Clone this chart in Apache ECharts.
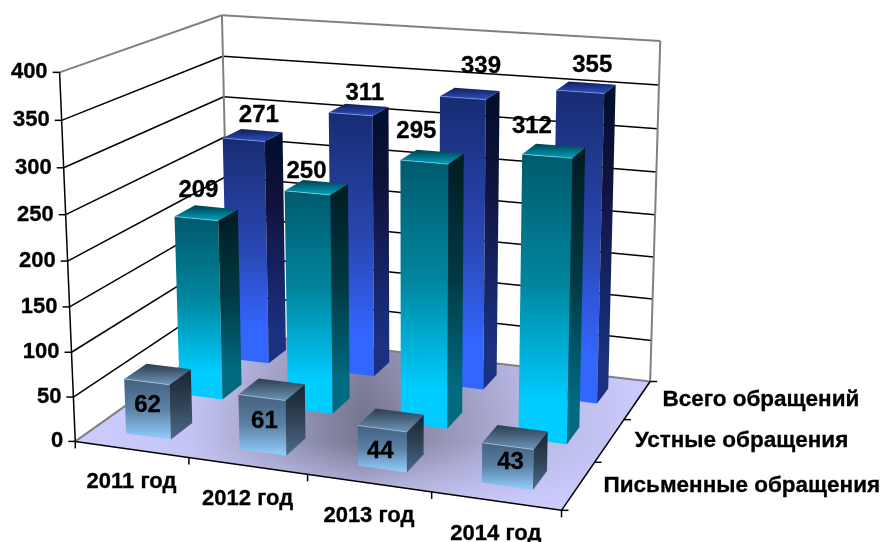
<!DOCTYPE html>
<html><head><meta charset="utf-8">
<style>html,body{margin:0;padding:0;background:#fff}#c{width:881px;height:542px}</style>
<script src="https://cdn.jsdelivr.net/npm/echarts@6/dist/echarts.min.js"></script>
</head><body><div id="c"></div>
<script>
const categories = ['2011 год','2012 год','2013 год','2014 год'];
const seriesNames = ['Письменные обращения','Устные обращения','Всего обращений'];
const written = [62,61,44,43];
const oral = [209,250,295,312];
const total = [271,311,339,355];
const valueTicks = [0,50,100,150,200,250,300,350,400];

const W=881,H=542,UMAX=4,VMAX=3,HMAX=400;
const FONT='"Liberation Sans",Arial,sans-serif';
// camera calibration: box position (category, depth, value) -> picture position
const calib=[
[0,0,0,75,441.7],[0,0,50,73,397.7],[0,0,100,71.7,352],[0,0,150,70,307],[0,0,200,68,261],[0,0,250,66,215],[0,0,300,63.5,167.7],[0,0,350,62,119.7],[0,0,400,60,72],
[1,0,0,188,460],[2,0,0,307,474.5],[3,0,0,432,491],[4,0,0,560,508.5],
[4,1,0,596,462],[4,2,0,625,420],[4,3,0,650,383],
[4,3,150,653,257],[4,3,200,654.5,215],[4,3,250,656,172.7],[4,3,300,658,128],[4,3,350,659,85],[4,3,400,661,41],
[0,3,400,221,15],[0,3,350,222.5,56],[0,3,300,224,98.5],[0,3,0,230,329.5]
];
function fit(){
  const A=[],b=[];
  calib.forEach(([u,v,h,x,y])=>{
    const U=u/UMAX,V=v/VMAX,T=h/HMAX;
    A.push([U,V,T,1,0,0,0,0,-x*U,-x*V,-x*T]);b.push(x);
    A.push([0,0,0,0,U,V,T,1,-y*U,-y*V,-y*T]);b.push(y);
  });
  const n=11,M=[];
  for(let r=0;r<n;r++){M[r]=[];for(let c=0;c<n;c++){let s=0;for(let k=0;k<A.length;k++)s+=A[k][r]*A[k][c];M[r][c]=s;}
    let s=0;for(let k=0;k<A.length;k++)s+=A[k][r]*b[k];M[r][n]=s;}
  for(let c=0;c<n;c++){let p=c;for(let r=c+1;r<n;r++)if(Math.abs(M[r][c])>Math.abs(M[p][c]))p=r;
    [M[c],M[p]]=[M[p],M[c]];
    for(let r=0;r<n;r++){if(r===c)continue;const f=M[r][c]/M[c][c];for(let k=c;k<=n;k++)M[r][k]-=f*M[c][k];}}
  return M.map((row,i)=>row[n]/row[i]);
}
const P=fit();
function project(u,v,h){
  const U=u/UMAX,V=v/VMAX,T=h/HMAX,d=P[8]*U+P[9]*V+P[10]*T+1;
  return [(P[0]*U+P[1]*V+P[2]*T+P[3])/d,(P[4]*U+P[5]*V+P[6]*T+P[7])/d];
}
// read category position and value through the (hidden) axes of the grid
function flat(api,cat,val){
  const c=api.coord([cat,val]);
  return {u:c[0]/W*UMAX,h:(H-c[1])/H*HMAX};
}
function vgrad(stops){return {type:'linear',x:0,y:0,x2:0,y2:1,global:false,
  colorStops:stops.map(s=>({offset:s[0],color:s[1]}))};}
const palettes=[
 {front:[[0,'#44607e'],[0.5,'#5b82a6'],[1,'#94ceff']],side:[[0,'#182430'],[0.5,'#2f4358'],[1,'#4d6b8a']],top:[[0,'#2c3d4e'],[1,'#6e94b8']],edge:'rgba(190,215,240,0.6)'},
 {front:[[0,'#005a6c'],[0.45,'#00869f'],[0.85,'#00ccff'],[1,'#00ccff']],side:[[0,'#001c20'],[0.45,'#003a44'],[0.85,'#006a80'],[1,'#006a80']],top:[[0,'#00404f'],[1,'#00a4c2']],edge:'rgba(150,225,240,0.6)'},
 {front:[[0,'#182c72'],[0.5,'#2a48b4'],[0.85,'#3366ff'],[1,'#3366ff']],side:[[0,'#000e2c'],[0.3,'#10123c'],[0.85,'#1a3080'],[1,'#1a3080']],top:[[0,'#101e58'],[1,'#2f50c4']],edge:'rgba(130,160,240,0.7)'}
];
function poly(pts,fill){return {type:'polygon',shape:{points:pts},style:{fill:fill,stroke:null}};}
function line(a,b,color,w){return {type:'line',shape:{x1:a[0],y1:a[1],x2:b[0],y2:b[1]},style:{stroke:color,lineWidth:w}};}
function barRender(depth){
  return function(params,api){
    const f=flat(api,api.value(0),api.value(1));
    const u0=f.u-0.2,u1=f.u+0.2,v0=depth+0.3,v1=depth+0.7,h=f.h,pal=palettes[depth];
    const a=project(u0,v0,0),b=project(u1,v0,0),c=project(u1,v1,0);
    const at=project(u0,v0,h),bt=project(u1,v0,h),ct=project(u1,v1,h),dt=project(u0,v1,h);
    return {type:'group',children:[
      poly([a,b,bt,at],vgrad(pal.front)),
      poly([b,c,ct,bt],vgrad(pal.side)),
      poly([at,bt,ct,dt],vgrad(pal.top)),
      line(at,bt,pal.edge,1)
    ]};
  };
}
function text(str,x,y,size,align){
  return {type:'text',style:{text:str,x:x,y:y,fontSize:size,fontWeight:'bold',fontFamily:FONT,fill:'#000',stroke:'#000',lineWidth:0.3,align:align||'center',verticalAlign:'middle'}};
}
// hand placement of the data labels, per depth row and category
const labelOffset=[
 [[0,-4],[2,-4],[-2,2],[3,-4]],
 [[-8,-23],[-10,-16],[-16,-25],[-22,-24]],
 [[6,-20],[6,-16],[11,-27],[6,-22]]
];
function labelRender(depth){
  return function(params,api){
    const i=api.value(0),f=flat(api,i,api.value(1)),o=labelOffset[depth][i];
    const p=depth===0?project(f.u,depth+0.3,f.h/2):project(f.u,depth+0.5,f.h);
    return text(String(api.value(1)),p[0]+o[0],p[1]+o[1],24);
  };
}
function base(name,data,render,z){
  return {name:name,type:'custom',coordinateSystem:'cartesian2d',data:data,renderItem:render,z:z,silent:true,clip:false,animation:false,encode:{x:0,y:1}};
}
const toData=a=>a.map((v,i)=>[i,v]);
const series=[
 base('floor',[[0,0]],function(){
   const a=project(0,0,0),b=project(UMAX,0,0),c=project(UMAX,VMAX,0),d=project(0,VMAX,0);
   return {type:'group',children:[
     poly([a,b,c,d],{type:'linear',x:0,y:0,x2:1,y2:0,global:false,colorStops:[{offset:0,color:'#ccccff'},{offset:0.2,color:'#c4c4f4'},{offset:0.5,color:'#76768f'},{offset:0.8,color:'#b8b8e4'},{offset:1,color:'#ccccff'}]}),
     poly([a,b,c,d],{type:'linear',x:0,y:0,x2:0,y2:1,global:false,colorStops:[{offset:0,color:'rgba(204,204,255,0.25)'},{offset:0.45,color:'rgba(204,204,255,0)'},{offset:0.62,color:'rgba(204,204,255,0)'},{offset:1,color:'rgba(204,204,255,1)'}]})
   ]};
 },1),
 base('grid lines',valueTicks.map(t=>[0,t]),function(params,api){
   const h=flat(api,0,api.value(1)).h;
   const a=project(0,0,h),b=project(0,VMAX,h),c=project(UMAX,VMAX,h);
   const edge=(h===HMAX||h===0);
   const col=edge?'#808080':'#000';
   const ch=[line(b,c,col,edge?2:1.5)];
   ch.push(line(a,b,col,edge?2:1.5));
   ch.push(line(a,[a[0]-7,a[1]],'#000',1.5));
   return {type:'group',children:ch};
 },2),
 base('frame',[[0,0]],function(){
   const a=project(0,0,0),at=project(0,0,HMAX),b=project(0,VMAX,0),bt=project(0,VMAX,HMAX),c=project(UMAX,VMAX,0),ct=project(UMAX,VMAX,HMAX),d=project(UMAX,0,0);
   const ch=[line(b,bt,'#808080',2),line(c,ct,'#808080',2),line(a,at,'#000',1.5),line(a,d,'#000',1.5),line(d,c,'#000',1.5)];
   for(let i=0;i<=UMAX;i++){const p=project(i,0,0);ch.push(line(p,[p[0],p[1]+7],'#000',1.5));}
   for(let i=0;i<=VMAX;i++){const p=project(UMAX,i,0);ch.push(line(p,[p[0]+7,p[1]],'#000',1.5));}
   return {type:'group',children:ch};
 },3),
 base(seriesNames[2],toData(total),barRender(2),4),
 base(seriesNames[1],toData(oral),barRender(1),5),
 base(seriesNames[0],toData(written),barRender(0),6),
 base('labels total',toData(total),labelRender(2),7),
 base('labels oral',toData(oral),labelRender(1),7),
 base('labels written',toData(written),labelRender(0),7),
 base('value ticks',valueTicks.map(t=>[0,t]),function(params,api){
   const h=flat(api,0,api.value(1)).h,p=project(0,0,h);
   return text(String(api.value(1)),p[0]-12,p[1],22,'right');
 },7),
 base('category labels',categories.map((c,i)=>[i,0]),function(params,api){
   const i=api.value(0),f=flat(api,i,0),p=project(f.u,0,0);
   return text(categories[i],p[0],p[1]+33,22);
 },7),
 base('depth labels',seriesNames.map((n,i)=>[0,i]),function(params,api){
   const i=params.dataIndex,p=project(UMAX,i+0.5,0);
   return text(seriesNames[i],p[0]+25,p[1],22.5,'left');
 },7)
];
const chart=echarts.init(document.getElementById('c'),null,{renderer:'canvas'});
chart.setOption({
  animation:false,backgroundColor:'#fff',
  grid:{left:0,top:0,width:W,height:H,containLabel:false,show:false},
  xAxis:{type:'category',data:categories,show:false},
  yAxis:{type:'value',min:0,max:HMAX,interval:50,show:false},
  series:series
});
</script></body></html>
